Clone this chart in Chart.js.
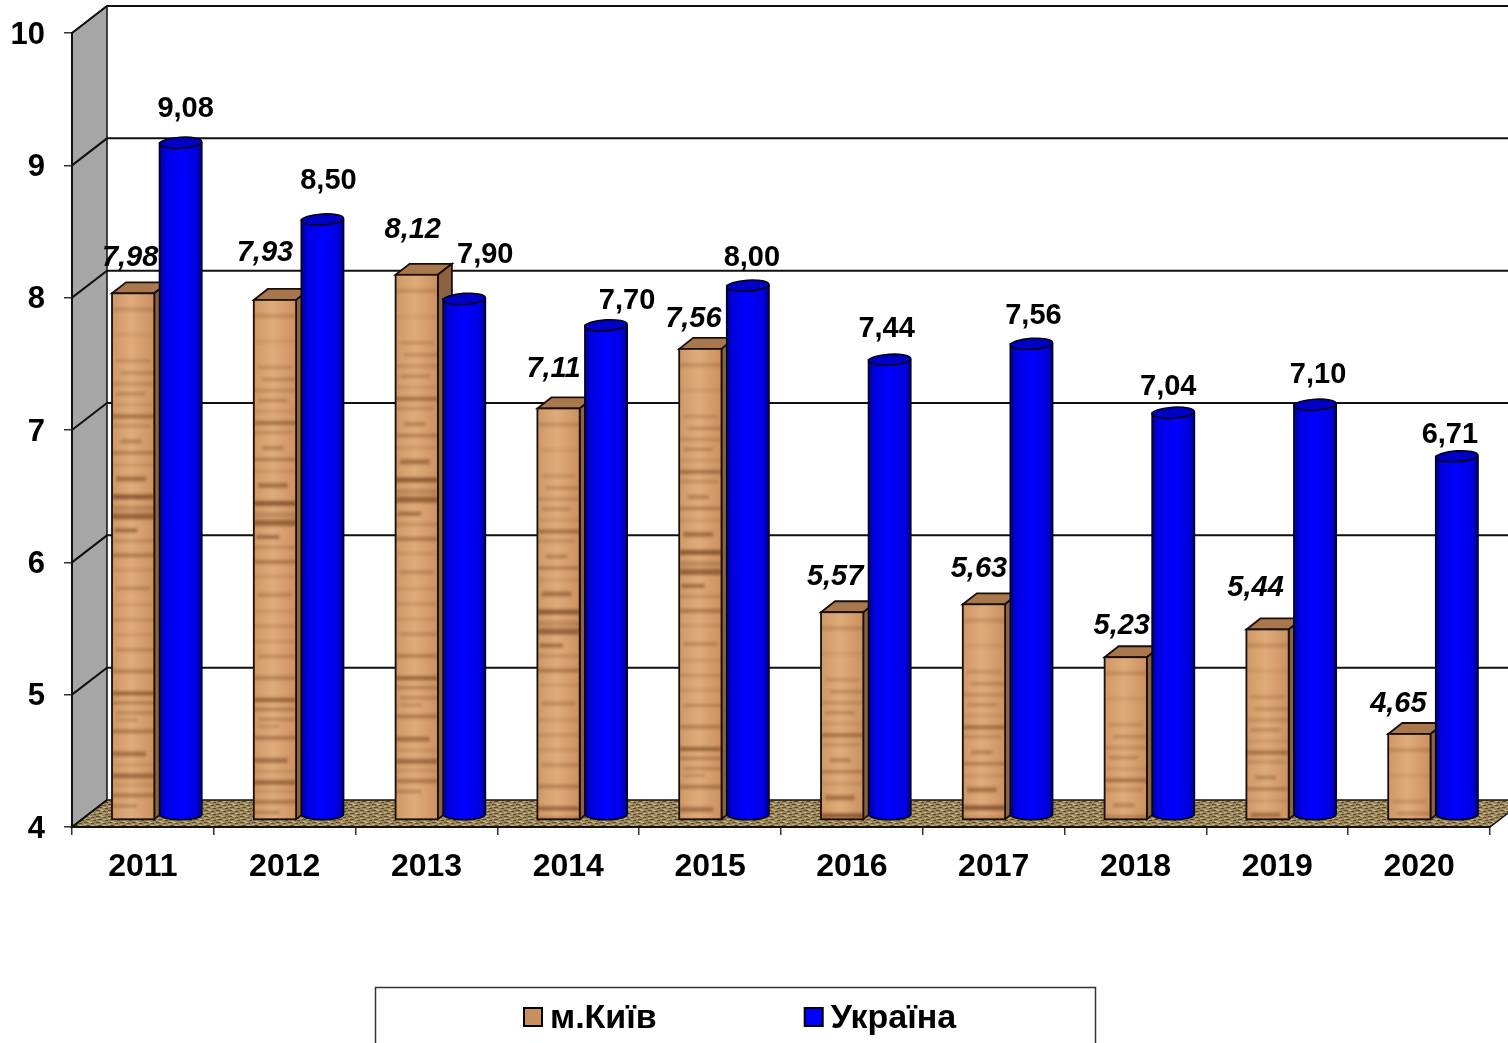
<!DOCTYPE html>
<html lang="uk">
<head>
<meta charset="utf-8">
<title>м.Київ / Україна</title>
<script src="https://cdn.jsdelivr.net/npm/chart.js@4/dist/chart.umd.min.js"></script>
<style>
  html, body { margin: 0; padding: 0; background: #fff; overflow: hidden; }
  canvas { display: block; }
</style>
</head>
<body>
<canvas id="chart" width="1508" height="1043"></canvas>
<script>
// дані
const categories = ["2011", "2012", "2013", "2014", "2015", "2016", "2017", "2018", "2019", "2020"];
const kyivValues = [7.98, 7.93, 8.12, 7.11, 7.56, 5.57, 5.63, 5.23, 5.44, 4.65];
const ukraineValues = [9.08, 8.50, 7.90, 7.70, 8.00, 7.44, 7.56, 7.04, 7.10, 6.71];
const seriesNames = ["м.Київ", "Україна"];
const yTicks = [4, 5, 6, 7, 8, 9, 10];

// зсуви підписів значень відносно верхівки стовпчика
const kyivLabelNudge = [[-3, -35], [-10, -47], [-4, -45], [-5, -39], [-7, -30], [-7, -35], [-5, -35], [-4, -31], [-12, -41], [-11, -30]];
const ukraineLabelNudge = [[5, -34], [6, -39], [21, -44], [21, -24], [4, -28], [-3, -31], [2, -28], [-5, -26], [3, -30], [-7, -21]];

const FONT = '"Liberation Sans", Arial, sans-serif';
const DEPTH_X = 35, DEPTH_Y = 27;
const BAR_DX = 14, KYIV_DY = -7, UKR_DY = -12;
const BOX_DX = 14, BOX_DY = 11;

// смуги деревної текстури: відступ від верху, товщина, прозорість, від, до (частка ширини)
const woodBands = [
  [14, 4, .22, 0, 1], [40, 3, .12, 0, 1], [66, 3, .25, .1, .9], [78, 3, .3, .2, 1], [89, 3, .25, 0, 1], [99, 3, .32, .1, .8],
  [110, 3, .15, 0, 1], [121, 4, .5, 0, 1], [131, 3, .25, 0, .9], [146, 4, .35, .2, .7], [158, 3, .42, 0, 1], [170, 3, .15, 0, 1], [183, 5, .5, .1, .8],
  [201, 5, .7, 0, 1], [212, 6, .25, 0, 1], [220, 6, .62, 0, 1], [235, 4, .55, .05, .6], [246, 3, .25, 0, 1],
  [260, 4, .42, 0, 1], [275, 3, .15, 0, 1], [293, 4, .28, .1, .9], [310, 3, .15, 0, 1], [325, 3, .22, 0, 1], [340, 3, .15, 0, 1], [355, 3, .3, .1, 1], [376, 4, .35, 0, 1],
  [398, 4, .62, 0, 1], [408, 3, .38, 0, 1], [418, 3, .3, .1, 1], [425, 3, .25, .1, .6], [436, 4, .42, 0, 1],
  [458, 5, .5, 0, .8], [470, 3, .18, 0, 1], [480, 5, .55, 0, 1], [490, 3, .18, 0, 1], [500, 4, .42, 0, 1], [511, 3, .35, 0, .6]
];

function makeWood() {
  const c = document.createElement("canvas");
  c.width = 42; c.height = 540;
  const g = c.getContext("2d");
  const base = g.createLinearGradient(0, 0, 42, 0);
  base.addColorStop(0, "#d09866");
  base.addColorStop(.45, "#e0ac7c");
  base.addColorStop(1, "#cc9160");
  g.fillStyle = base;
  g.fillRect(0, 0, 42, 540);
  g.filter = "blur(1.5px)";
  woodBands.forEach(([y, h, a, from, to]) => {
    g.fillStyle = `rgba(110,62,25,${a})`;
    g.fillRect(from * 42, y, (to - from) * 42, h);
  });
  return c;
}

function makeFloorPattern(ctx) {
  const c = document.createElement("canvas");
  c.width = 12; c.height = 6;
  const g = c.getContext("2d");
  g.fillStyle = "#9a8459";
  g.fillRect(0, 0, 12, 6);
  g.fillStyle = "#5c4b29";
  g.fillRect(0, 0, 4, 1);
  g.fillRect(7, 1, 3, 1);
  g.fillRect(2, 3, 4, 1);
  g.fillRect(9, 4, 3, 1);
  g.fillStyle = "#c4b189";
  g.fillRect(5, 0, 3, 1);
  g.fillRect(0, 2, 3, 1);
  g.fillRect(7, 3, 3, 1);
  g.fillRect(3, 5, 3, 1);
  return ctx.createPattern(c, "repeat");
}

const wood = makeWood();

// стіни, підлога і лінії сітки
const wallsPlugin = {
  id: "walls",
  beforeDraw(chart) {
    const { ctx, scales } = chart;
    const y = scales.y, area = chart.chartArea;
    const top = y.getPixelForValue(10), bot = y.getPixelForValue(4);
    ctx.save();
    ctx.lineWidth = 1.5;
    ctx.strokeStyle = "#111";

    // ліва стінка
    ctx.fillStyle = "#a6a6a6";
    ctx.beginPath();
    ctx.moveTo(area.left, top);
    ctx.lineTo(area.left + DEPTH_X, top - DEPTH_Y);
    ctx.lineTo(area.left + DEPTH_X, bot - DEPTH_Y);
    ctx.lineTo(area.left, bot);
    ctx.closePath();
    ctx.fill();
    ctx.stroke();

    // підлога
    ctx.fillStyle = makeFloorPattern(ctx);
    ctx.beginPath();
    ctx.moveTo(area.left, bot);
    ctx.lineTo(area.left + DEPTH_X, bot - DEPTH_Y);
    ctx.lineTo(area.right + DEPTH_X, bot - DEPTH_Y);
    ctx.lineTo(area.right, bot);
    ctx.closePath();
    ctx.fill();
    ctx.stroke();

    // лінії сітки на задній стінці і на лівій
    ctx.lineWidth = 2;
    yTicks.forEach((t) => {
      const py = y.getPixelForValue(t);
      ctx.beginPath();
      ctx.moveTo(area.left, py);
      ctx.lineTo(area.left + DEPTH_X, py - DEPTH_Y);
      if (t > 4) ctx.lineTo(chart.width, py - DEPTH_Y);
      ctx.stroke();
    });

    // рамка легенди
    ctx.lineWidth = 1.5;
    ctx.strokeStyle = "#333";
    ctx.strokeRect(375.5, 987.5, 720, 70);
    ctx.restore();
  },
  afterLayout(chart) {
    // верх шкали: макет лишає зайвий відступ над підписом 10
    const y = chart.scales.y;
    y.top = 33;
    y.height = y.bottom - y.top;
    y.configure();
    chart.chartArea.top = 33;
    chart.chartArea.height = chart.chartArea.bottom - 33;

    // легенда стоїть не по центру полотна
    const lg = chart.legend;
    const pad = lg.options.labels.padding;
    lg.left = 524 - pad;
    lg.right = chart.width;
    lg.top = 1002 - pad;
    lg.bottom = chart.height;
  },
  afterDraw(chart) {
    // квадратики легенди ширші, ніж дозволяє відступ до тексту
    const { ctx } = chart;
    const boxes = chart.legend.legendHitBoxes;
    ctx.save();
    ctx.lineWidth = 2;
    ctx.strokeStyle = "#000";
    boxes.forEach((b, i) => {
      const x = 524 + b.left - boxes[0].left;
      ctx.fillStyle = "#fff";
      ctx.fillRect(x - 2, 1005, 22, 24);
      ctx.fillStyle = i === 0 ? "#c98f5f" : "#0000ff";
      ctx.fillRect(x, 1008, 18, 18);
      ctx.strokeRect(x, 1008, 18, 18);
    });
    ctx.restore();
  }
};

// об'ємний вигляд стовпчиків: дані йдуть через елементи Chart.js
const barsPlugin = {
  id: "bars3d",
  beforeDatasetDraw(chart, args) {
    const { ctx } = chart;
    ctx.save();
    ctx.translate(BAR_DX, args.index === 0 ? KYIV_DY : UKR_DY);
  },
  afterDatasetDraw(chart, args) {
    const { ctx } = chart;
    if (args.index === 0) {
      args.meta.data.forEach((el) => drawBox(ctx, el));
    }
    ctx.restore();
  },
  afterDatasetsDraw(chart) {
    const { ctx } = chart;
    // циліндри йдуть поверх бічних граней
    ctx.save();
    ctx.translate(BAR_DX, UKR_DY);
    chart.getDatasetMeta(1).data.forEach((el) => drawCylinder(ctx, el));
    ctx.restore();

    ctx.save();
    ctx.fillStyle = "#000";
    ctx.textAlign = "center";
    ctx.textBaseline = "middle";
    chart.data.datasets.forEach((ds, di) => {
      const meta = chart.getDatasetMeta(di);
      const nudge = di === 0 ? kyivLabelNudge : ukraineLabelNudge;
      ctx.font = (di === 0 ? "italic bold 29px " : "bold 29px ") + FONT;
      meta.data.forEach((el, i) => {
        const dy = di === 0 ? KYIV_DY : UKR_DY;
        const text = ds.data[i].toFixed(2).replace(".", ",");
        ctx.fillText(text, el.x + BAR_DX + nudge[i][0], el.y + dy + nudge[i][1]);
      });
    });
    ctx.restore();
  }
};

function drawBox(ctx, el) {
  const w = el.width, h = el.base - el.y;
  const x = el.x - w / 2, y = el.y;
  ctx.lineWidth = 1.8;
  ctx.strokeStyle = "#1a0f08";

  // верх і бічна грань
  ctx.fillStyle = "#a9774e";
  ctx.beginPath();
  ctx.moveTo(x, y);
  ctx.lineTo(x + BOX_DX, y - BOX_DY);
  ctx.lineTo(x + w + BOX_DX, y - BOX_DY);
  ctx.lineTo(x + w, y);
  ctx.closePath();
  ctx.fill();
  ctx.stroke();

  ctx.fillStyle = "#8a6340";
  ctx.beginPath();
  ctx.moveTo(x + w, y);
  ctx.lineTo(x + w + BOX_DX, y - BOX_DY);
  ctx.lineTo(x + w + BOX_DX, el.base - BOX_DY);
  ctx.lineTo(x + w, el.base);
  ctx.closePath();
  ctx.fill();
  ctx.stroke();

  // передня грань, текстура прив'язана до верху
  ctx.drawImage(wood, 0, 0, 42, Math.min(h, 540), x, y, w, h);
  ctx.strokeRect(x, y, w, h);
}

function drawCylinder(ctx, el) {
  const w = el.width, rx = w / 2, ry = 5.5;
  const x = el.x - rx;
  const grad = ctx.createLinearGradient(x, 0, x + w, 0);
  grad.addColorStop(0, "#00008a");
  grad.addColorStop(.14, "#0000e0");
  grad.addColorStop(.5, "#0000ff");
  grad.addColorStop(.86, "#0000e0");
  grad.addColorStop(1, "#00008a");

  ctx.fillStyle = grad;
  ctx.strokeStyle = "#00001c";
  ctx.lineWidth = 1.6;
  ctx.beginPath();
  ctx.moveTo(x, el.y);
  ctx.lineTo(x, el.base);
  ctx.ellipse(el.x, el.base, rx, ry, 0, Math.PI, 0, true);
  ctx.lineTo(x + w, el.y);
  ctx.closePath();
  ctx.fill();
  ctx.stroke();

  // верхня кришка трохи нахилена
  ctx.fillStyle = "#0000c4";
  ctx.strokeStyle = "#000018";
  ctx.beginPath();
  ctx.ellipse(el.x, el.y, rx, ry, -0.06, 0, Math.PI * 2);
  ctx.fill();
  ctx.stroke();
}

// підписи шкали y сидять на 2 px нижче середини поділки
function shiftYLabels(scale) {
  if (scale.labelsShifted) return;
  const drawLabels = scale.drawLabels;
  scale.drawLabels = function (area) {
    this.ctx.save();
    this.ctx.translate(0, 2);
    drawLabels.call(this, area);
    this.ctx.restore();
  };
  scale.labelsShifted = true;
}

new Chart(document.getElementById("chart"), {
  type: "bar",
  data: {
    labels: categories,
    datasets: [
      { label: seriesNames[0], data: kyivValues, base: 4, backgroundColor: "#c98f5f", borderColor: "#000", borderWidth: 0, clip: false },
      { label: seriesNames[1], data: ukraineValues, base: 4, backgroundColor: "#0000ff", borderColor: "#000", borderWidth: 0, clip: false }
    ]
  },
  options: {
    responsive: false,
    animation: false,
    events: [],
    layout: { autoPadding: false, padding: { top: 29, right: 18, left: 0, bottom: 0 } },
    datasets: { bar: { categoryPercentage: 0.67, barPercentage: 0.89 } },
    plugins: {
      tooltip: { enabled: false },
      legend: {
        position: "bottom",
        align: "start",
        maxHeight: 56,
        labels: {
          boxWidth: 9,
          boxHeight: 18,
          padding: 148,
          color: "#000",
          font: { family: FONT, size: 34, weight: "bold" }
        }
      }
    },
    scales: {
      x: {
        afterFit: (s) => { s.height = 160; },
        border: { color: "#111", width: 2 },
        grid: { drawOnChartArea: false, color: "#333", tickLength: 8, lineWidth: 1.5 },
        ticks: { color: "#000", padding: 13, maxRotation: 0, font: { family: FONT, size: 32, weight: "bold" } }
      },
      y: {
        min: 4,
        max: 10,
        afterFit: (s) => { s.width = 72; shiftYLabels(s); },
        afterBuildTicks: (s) => { s.ticks = yTicks.map((v) => ({ value: v })); },
        border: { color: "#111", width: 2 },
        grid: { drawOnChartArea: false, color: "#333", tickLength: 8, lineWidth: 1.5 },
        ticks: { color: "#000", padding: 19, font: { family: FONT, size: 31, weight: "bold" } }
      }
    }
  },
  plugins: [wallsPlugin, barsPlugin]
});
</script>
</body>
</html>
